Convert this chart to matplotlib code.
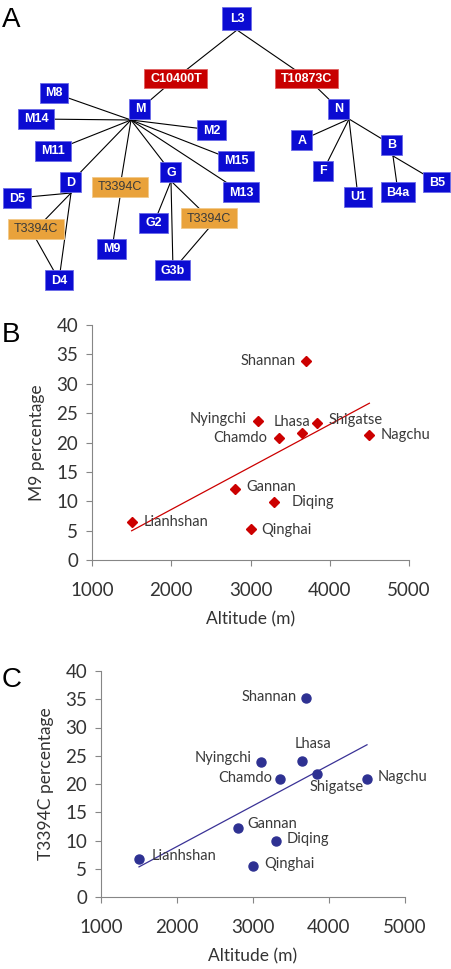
import numpy as np
import matplotlib.pyplot as plt
from matplotlib.patches import Rectangle

# ---- panel A: haplogroup tree ----
nodes = [
    ("L3", "L3", "blue"), ("C10400T", "C10400T", "red"), ("T10873C", "T10873C", "red"),
    ("M", "M", "blue"), ("N", "N", "blue"),
    ("M8", "M8", "blue"), ("M14", "M14", "blue"), ("M2", "M2", "blue"),
    ("M11", "M11", "blue"), ("M15", "M15", "blue"), ("D", "D", "blue"),
    ("G", "G", "blue"), ("T_M9", "T3394C", "orange"), ("M13", "M13", "blue"),
    ("D5", "D5", "blue"), ("T_D", "T3394C", "orange"), ("G2", "G2", "blue"),
    ("T_G", "T3394C", "orange"), ("M9", "M9", "blue"), ("G3b", "G3b", "blue"),
    ("D4", "D4", "blue"), ("A", "A", "blue"), ("B", "B", "blue"), ("F", "F", "blue"),
    ("U1", "U1", "blue"), ("B4a", "B4a", "blue"), ("B5", "B5", "blue"),
]

edges = [
    ("L3", "C10400T"), ("L3", "T10873C"), ("C10400T", "M"), ("T10873C", "N"),
    ("M", "M8"), ("M", "M14"), ("M", "M2"), ("M", "M11"), ("M", "M15"),
    ("M", "M13"), ("M", "G"), ("M", "D"), ("M", "T_M9"), ("T_M9", "M9"),
    ("D", "D5"), ("D", "T_D"), ("D", "D4"), ("T_D", "D4"),
    ("G", "G2"), ("G", "G3b"), ("G", "T_G"), ("T_G", "G3b"),
    ("N", "A"), ("N", "F"), ("N", "U1"), ("N", "B"), ("B", "B4a"), ("B", "B5"),
]

# layout of the diagram in pixels: centre x, centre y, width, height
layout = {
    "L3": (237, 18, 29, 23), "C10400T": (176, 78, 63, 19), "T10873C": (307, 78, 63, 19),
    "M": (140, 109, 21, 20), "N": (339, 109, 21, 20),
    "M8": (54, 93, 28, 20), "M14": (36, 119, 36, 20), "M2": (212, 130, 29, 20),
    "M11": (53, 151, 36, 20), "M15": (236, 161, 36, 20), "D": (71, 182, 21, 20),
    "G": (171, 172, 21, 20), "T_M9": (120, 187, 56, 20), "M13": (241, 192, 36, 20),
    "D5": (17, 198, 28, 20), "T_D": (36, 229, 56, 20), "G2": (154, 223, 29, 20),
    "T_G": (209, 218, 56, 20), "M9": (112, 249, 29, 20), "G3b": (173, 270, 35, 20),
    "D4": (59, 280, 28, 20), "A": (302, 140, 21, 20), "B": (392, 145, 21, 20),
    "F": (323, 171, 20, 20), "U1": (358, 197, 28, 20), "B4a": (398, 192, 34, 20),
    "B5": (437, 182, 27, 20),
}
# where branches leave a parent box (offset from its centre)
hub = {"L3": (0, 12), "M": (-9, 11), "N": (10, 10), "D": (0, 11), "G": (0, 9),
       "B": (1, 11), "T_D": (0, 10), "T_G": (0, 10), "T_M9": (0, 10)}

box_color = {"blue": "#0B0BD2", "red": "#C80000", "orange": "#E9A23B"}
edge_color = {"blue": "#6a6ae8", "red": "#e06060", "orange": "#f2c98a"}
text_color = {"blue": "white", "red": "white", "orange": "#3a3a3a"}

# ---- panels B and C ----
regions = ["Shannan", "Nyingchi", "Lhasa", "Shigatse", "Chamdo", "Nagchu",
           "Gannan", "Diqing", "Lianhshan", "Qinghai"]
altitude = [3700, 3100, 3650, 3840, 3360, 4500, 2800, 3300, 1500, 3000]
m9_pct = [33.8, 23.7, 21.7, 23.3, 20.7, 21.2, 12.1, 9.9, 6.5, 5.3]
t3394c_pct = [35.3, 23.9, 24.0, 21.8, 20.9, 20.9, 12.2, 10.0, 6.7, 5.5]

yticks = [0, 5, 10, 15, 20, 25, 30, 35, 40]
xticks = [1000, 2000, 3000, 4000, 5000]

# label offsets (pixels) and alignment
labels_b = {
    "Shannan": (-10, 0, "right"), "Nyingchi": (-12, 2, "right"), "Lhasa": (8, 11, "right"),
    "Shigatse": (11, 3, "left"), "Chamdo": (-12, 0, "right"), "Nagchu": (11, 0, "left"),
    "Gannan": (12, 2, "left"), "Diqing": (17, 0, "left"), "Lianhshan": (12, 0, "left"),
    "Qinghai": (11, -1, "left"),
}
labels_c = {
    "Shannan": (-10, 1, "right"), "Nyingchi": (-9, 4, "right"), "Lhasa": (11, 17, "center"),
    "Shigatse": (-7, -13, "left"), "Chamdo": (-8, 1, "right"), "Nagchu": (11, 2, "left"),
    "Gannan": (10, 4, "left"), "Diqing": (11, 2, "left"), "Lianhshan": (13, 3, "left"),
    "Qinghai": (11, 2, "left"),
}

W, H = 452, 969
fig = plt.figure(figsize=(W / 100, H / 100), dpi=100)

# panel A
axA = fig.add_axes([0, 1 - 300 / H, 1, 300 / H])
axA.set_xlim(0, W)
axA.set_ylim(300, 0)
axA.axis("off")
for a, b in edges:
    xa, ya = layout[a][:2]
    dx, dy = hub.get(a, (0, 0))
    xb, yb = layout[b][:2]
    axA.plot([xa + dx, xb], [ya + dy, yb], color="black", lw=0.8, zorder=1)
for nid, label, kind in nodes:
    x, y, w, h = layout[nid]
    axA.add_patch(Rectangle((x - w / 2, y - h / 2), w, h, facecolor=box_color[kind],
                            edgecolor=edge_color[kind], lw=0.6, zorder=2))
    axA.text(x, y + 0.5, label, ha="center", va="center", color=text_color[kind],
             fontsize=9, family="Liberation Sans",
             weight="normal" if kind == "orange" else "bold", zorder=3)
axA.text(2, 27, "A", fontsize=20, family="Liberation Sans", va="baseline")


def scatter_panel(rect, yvals, marker, ms, color, line_color, ylabel, offsets):
    ax = fig.add_axes(rect)
    ax.plot(altitude, yvals, linestyle="none", marker=marker, ms=ms, color=color, zorder=3)
    k, c = np.polyfit(altitude, yvals, 1)
    xs = np.array([min(altitude), max(altitude)])
    ax.plot(xs, k * xs + c, color=line_color, lw=0.9, zorder=2)
    for name, x, y in zip(regions, altitude, yvals):
        ox, oy, ha = offsets[name]
        ax.annotate(name, (x, y), xytext=(ox, oy), textcoords="offset pixels",
                    ha=ha, va="center", fontsize=10.5, color="#3a3a3a", family="Lato")
    ax.set_xlim(1000, 5000)
    ax.set_ylim(0, 40)
    ax.set_xticks(xticks)
    ax.set_yticks(yticks)
    for s in ["top", "right"]:
        ax.spines[s].set_visible(False)
    for s in ["left", "bottom"]:
        ax.spines[s].set_color("#868686")
    ax.tick_params(axis="both", colors="#868686", labelcolor="#333333", length=4,
                   labelsize=13.5)
    ax.tick_params(axis="x", pad=12)
    ax.tick_params(axis="y", pad=6)
    for t in ax.get_xticklabels() + ax.get_yticklabels():
        t.set_family("Lato")
    ax.set_xlabel("Altitude (m)", fontsize=12.5, family="Lato", color="#333333", labelpad=9)
    ax.set_ylabel(ylabel, fontsize=12.5, family="Lato", color="#333333", labelpad=8)
    return ax


scatter_panel([92 / W, 1 - 560 / H, 317 / W, 235 / H], m9_pct, "D", 5.5, "#CC0000",
              "#CC0000", "M9 percentage", labels_b)
fig.text(2 / W, 1 - 342 / H, "B", fontsize=20, family="Liberation Sans", va="baseline")

scatter_panel([101 / W, 1 - 897 / H, 304 / W, 226 / H], t3394c_pct, "o", 6.5, "#2E3192",
              "#3A3296", "T3394C percentage", labels_c)
fig.text(2 / W, 1 - 687 / H, "C", fontsize=20, family="Liberation Sans", va="baseline")

fig.savefig("out.png", dpi=100)
